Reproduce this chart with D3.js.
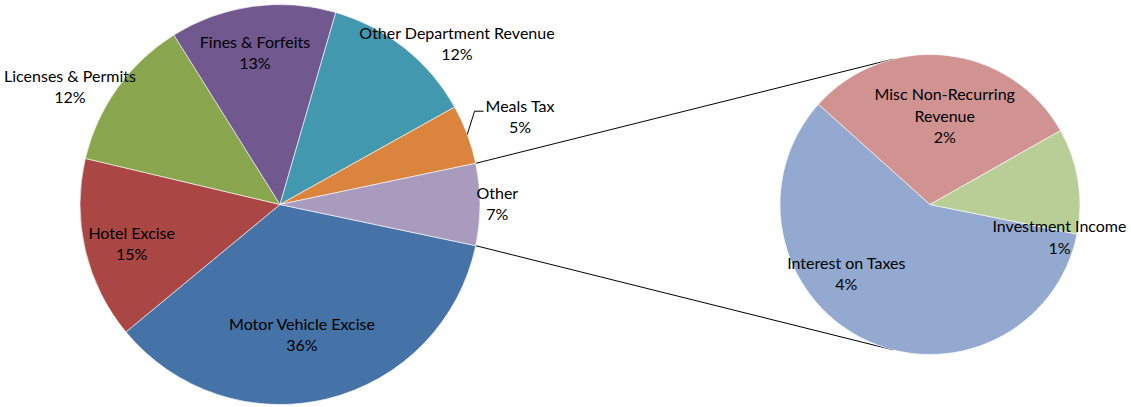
<!DOCTYPE html>
<html><head><meta charset="utf-8">
<script src="https://cdn.jsdelivr.net/npm/d3@7"></script>
<style>
html,body{margin:0;padding:0;background:#fff;}
svg{display:block;}
.lbl{font-family:Lato,"Noto Sans",sans-serif;font-size:16px;fill:#000;}
</style></head><body>
<svg id="chart" width="1131" height="407"></svg>
<script>
// Revenue sources, percent of total revenue
const mainCategories = ["Motor Vehicle Excise", "Hotel Excise", "Licenses & Permits", "Fines & Forfeits", "Other Department Revenue", "Meals Tax"];
const mainValues = [35.7, 14.7, 12.4, 13.4, 12.4, 4.8];
const mainColors = ["#4572A7", "#AA4643", "#89A54E", "#71588F", "#4198AF", "#DB843D"];

// Breakdown of the "Other" group
const otherName = "Other";
const otherColor = "#A99BBD";
const otherCategories = ["Interest on Taxes", "Misc Non-Recurring Revenue", "Investment Income"];
const otherValues = [3.86, 1.99, 0.75];
const otherColors = ["#93A9CF", "#D19392", "#B9CD96"];

const svg = d3.select("#chart");
const deg = Math.PI / 180;

const main = { cx: 280, cy: 204.5, r: 200 };
const side = { cx: 930, cy: 204.5, r: 150 };

const otherTotal = d3.sum(otherValues);
const grandTotal = d3.sum(mainValues) + otherTotal;
const pct = d3.format(".0%");

const mainData = mainCategories.map((c, i) => ({ name: c, value: mainValues[i], color: mainColors[i] }))
  .concat([{ name: otherName, value: otherTotal, color: otherColor }]);
const sideData = otherCategories.map((c, i) => ({ name: c, value: otherValues[i], color: otherColors[i] }));

// "Other" slice is centred on the 3 o'clock position
const otherSpan = otherTotal / grandTotal * 2 * Math.PI;
const mainStart = Math.PI / 2 + otherSpan / 2;
const mainArcs = d3.pie().sort(null).value(d => d.value)
  .startAngle(mainStart).endAngle(mainStart + 2 * Math.PI)(mainData);

const sideStart = 101.4 * deg;
const sideArcs = d3.pie().sort(null).value(d => d.value)
  .startAngle(sideStart).endAngle(sideStart + 2 * Math.PI)(sideData);

const polar = (c, a, r) => [c.cx + r * Math.sin(a), c.cy - r * Math.cos(a)];

// connector lines between the "Other" slice and the breakdown pie
const oArc = mainArcs[mainArcs.length - 1];
const joinOff = 14.2 * deg;
const connectors = [
  [polar(main, oArc.startAngle, main.r), polar(side, -joinOff, side.r)],
  [polar(main, oArc.endAngle, main.r), polar(side, Math.PI + joinOff, side.r)]
];
svg.append("g").selectAll("line").data(connectors).join("line")
  .attr("x1", d => d[0][0]).attr("y1", d => d[0][1])
  .attr("x2", d => d[1][0]).attr("y2", d => d[1][1])
  .attr("stroke", "#000").attr("stroke-width", 1);

function drawPie(c, arcs) {
  const arc = d3.arc().innerRadius(0).outerRadius(c.r);
  svg.append("g").attr("transform", `translate(${c.cx},${c.cy})`)
    .selectAll("path").data(arcs).join("path")
    .attr("d", arc).attr("fill", d => d.data.color)
    .attr("stroke", "#fff").attr("stroke-width", 0.6).attr("stroke-linejoin", "round");
}
drawPie(main, mainArcs);
drawPie(side, sideArcs);

// label block centres, relative to each pie's centre
const labelPos = {
  "Motor Vehicle Excise": [22, 130.5],
  "Hotel Excise": [-148.3, 39.2],
  "Licenses & Permits": [-210, -117.7],
  "Fines & Forfeits": [-25, -151.5],
  "Other Department Revenue": [177, -160.8],
  "Meals Tax": [240, -87.7],
  "Other": [217.3, -0.8],
  "Misc Non-Recurring Revenue": [14.7, -88.4],
  "Investment Income": [129.5, 33],
  "Interest on Taxes": [-83.7, 69.3]
};
const lineGap = 21.5;
const labelLayer = svg.append("g");

function wrapWords(text, maxW) {
  if (!maxW) return [text];
  const probe = labelLayer.append("text").attr("class", "lbl");
  const words = text.split(" ");
  const lines = [];
  let cur = "";
  words.forEach(w => {
    const test = cur ? cur + " " + w : w;
    probe.text(test);
    if (probe.node().getComputedTextLength() > maxW && cur) { lines.push(cur); cur = w; }
    else cur = test;
  });
  lines.push(cur);
  probe.remove();
  return lines;
}

function drawLabels(c, arcs, maxW) {
  arcs.forEach(a => {
    const p = labelPos[a.data.name];
    const lines = wrapWords(a.data.name, maxW).concat([pct(a.data.value / grandTotal)]);
    const x = c.cx + p[0], y = c.cy + p[1];
    const t = labelLayer.append("text").attr("class", "lbl").attr("text-anchor", "middle");
    lines.forEach((s, i) => {
      t.append("tspan").attr("x", x)
        .attr("y", y + (i - (lines.length - 1) / 2) * lineGap)
        .attr("dy", "0.35em").text(s);
    });
    a.labelBox = { x, y, node: t.node() };
  });
}
drawLabels(main, mainArcs, 0);
drawLabels(side, sideArcs, 150);

// leader line for the narrow Meals Tax slice
const meals = mainArcs.find(a => a.data.name === "Meals Tax");
const mb = meals.labelBox.node.getBBox();
const mStart = polar(main, (meals.startAngle + meals.endAngle) / 2, main.r);
const elbowY = meals.labelBox.y - 5.6;
svg.append("path")
  .attr("d", d3.line()([mStart, [mb.x - 11, elbowY], [mb.x - 2, elbowY]]))
  .attr("fill", "none").attr("stroke", "#000").attr("stroke-width", 1);
</script>
</body></html>
